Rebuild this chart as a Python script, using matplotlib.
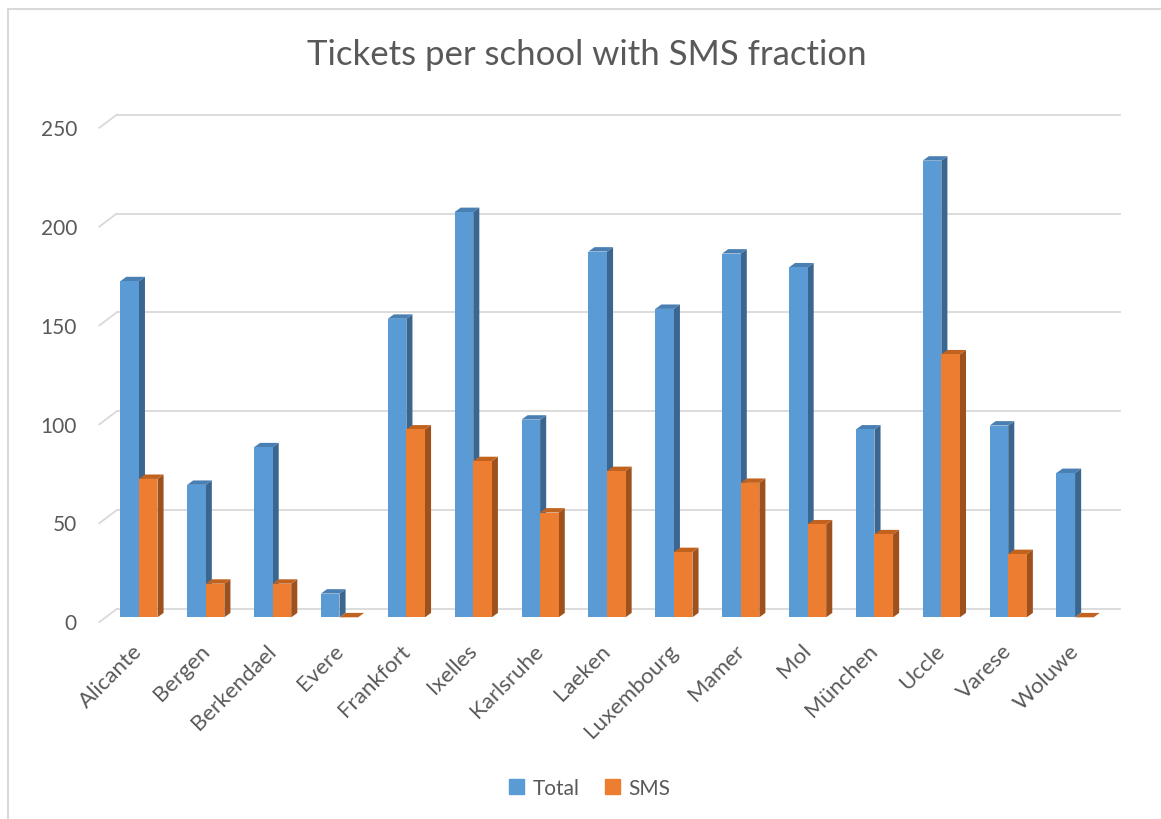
import matplotlib
matplotlib.use("Agg")
import matplotlib.pyplot as plt
from matplotlib.patches import Polygon, Patch, Rectangle

# data
schools = ["Alicante", "Bergen", "Berkendael", "Evere", "Frankfort", "Ixelles",
           "Karlsruhe", "Laeken", "Luxembourg", "Mamer", "Mol", "München",
           "Uccle", "Varese", "Woluwe"]
total = [170, 67, 86, 12, 151, 205, 100, 185, 156, 184, 177, 95, 231, 97, 73]
sms = [70, 17, 17, 0, 95, 79, 53, 74, 33, 68, 47, 42, 133, 32, 0]
yticks = [0, 50, 100, 150, 200, 250]

plt.rcParams['font.family'] = ['Lato', 'DejaVu Sans']
txt_col = '#595959'
grid_col = '#D9D9D9'

# colours: front / side / top
blue = ('#5B9BD5', '#3B6690', '#4A7FB3')
orange = ('#ED7D31', '#9E511D', '#C2621F')

fig = plt.figure(figsize=(11.61, 8.2), dpi=100)
ax = fig.add_axes([0, 0, 1, 1])
# one category step = 66.87 px, one unit = 1.977 px
ax.set_xlim(-2.077, 15.285)
ax.set_ylim(-102.02, 312.75)
ax.axis('off')

# back wall gridlines + side wall diagonals
back = 4.2
for v in yticks:
    ax.plot([-0.332, 14.672], [v + back, v + back], color=grid_col, lw=1.3, zorder=1)
    ax.plot([-0.592, -0.332], [v - 2.4, v + back], color=grid_col, lw=1.3, zorder=1)
    ax.text(-0.926, v - 3.0, str(v), ha='right', va='center', fontsize=15, color=txt_col)

w = 0.278
ddx, ddy = 0.091, 2.23


def bar3d(x, v, cols):
    xl, xr = x - w / 2, x + w / 2
    side = Polygon([(xr, 0), (xr + ddx, ddy), (xr + ddx, v + ddy), (xr, v)],
                   closed=True, facecolor=cols[1], edgecolor='none', zorder=3)
    top = Polygon([(xl, v), (xl + ddx, v + ddy), (xr + ddx, v + ddy), (xr, v)],
                  closed=True, facecolor=cols[2], edgecolor='none', zorder=3)
    ax.add_patch(side)
    ax.add_patch(top)
    ax.bar(x, v, width=w, bottom=0, color=cols[0], zorder=3)


for i in range(len(schools)):
    bar3d(i - w / 2, total[i], blue)
    bar3d(i + w / 2, sms[i], orange)

for i, name in enumerate(schools):
    ax.text(i - 0.1, -11.5, name, rotation=45, ha='right', va='top',
            rotation_mode='anchor', fontsize=16, color=txt_col)

fig.text(0.5056, 0.933, "Tickets per school with SMS fraction", ha='center',
         va='center', fontsize=25, color=txt_col)

handles = [Patch(color=blue[0], label='Total'), Patch(color=orange[0], label='SMS')]
fig.legend(handles=handles, loc='center', bbox_to_anchor=(0.508, 1 - 789 / 820),
           ncol=2, frameon=False, fontsize=15, handlelength=0.75, handleheight=0.75,
           handletextpad=0.4, columnspacing=1.2, labelcolor=txt_col)

# chart border (only top and left edges are inside the picture)
fig.patches.append(Rectangle((8 / 1161, -0.1), 1.2, 1.1 - 10 / 820, transform=fig.transFigure,
                             fill=False, edgecolor=grid_col, lw=1.5))

fig.savefig("out.png", dpi=100)
